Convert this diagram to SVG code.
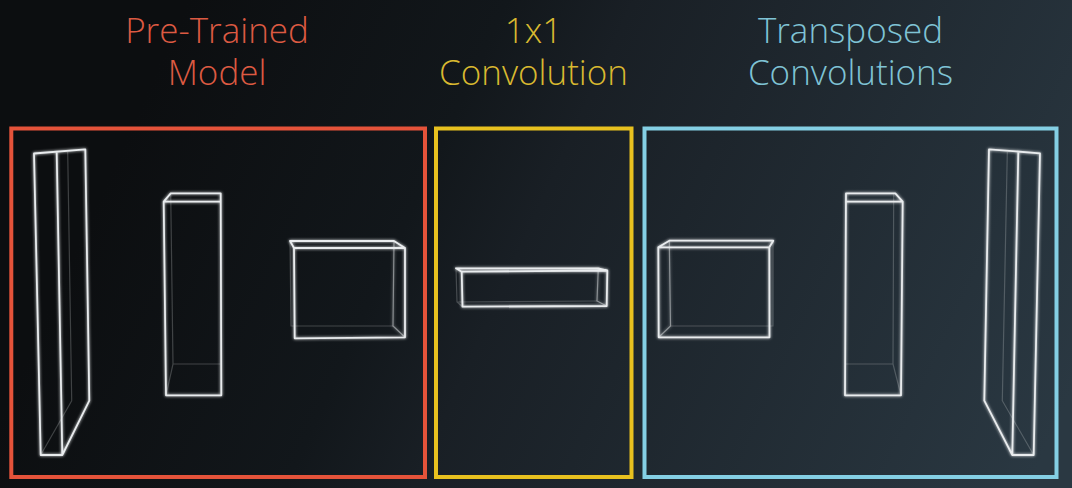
<svg xmlns="http://www.w3.org/2000/svg" width="1072" height="488" viewBox="0 0 1072 488">
<style>
.t{font-family:"Open Sans","Liberation Sans",sans-serif;font-weight:300;font-size:35px;text-anchor:middle}
.f{fill:none;stroke-width:4}
.b{fill:none;stroke:#e9ecee;stroke-width:1.8;stroke-linejoin:round;stroke-linecap:round;filter:url(#g)}
.m{fill:none;stroke:#cfd3d6;stroke-opacity:.55;stroke-width:1.2;filter:url(#g)}
.l{fill:none;stroke:#cfd3d6;stroke-opacity:.26;stroke-width:1.2}
</style>
<defs>
<linearGradient id="bg" gradientUnits="userSpaceOnUse" x1="120" y1="150" x2="1000" y2="550">
<stop offset="0" stop-color="#0c0e10"/><stop offset=".3" stop-color="#12171b"/><stop offset=".42" stop-color="#191f25"/><stop offset="1" stop-color="#2a3842"/>
</linearGradient>
<filter id="g" x="-30%" y="-30%" width="160%" height="160%">
<feGaussianBlur stdDeviation="1.5" result="b"/>
<feMerge><feMergeNode in="b"/><feMergeNode in="SourceGraphic"/></feMerge>
</filter>
</defs>
<rect width="1072" height="488" fill="url(#bg)"/>
<g id="pretrained-model">
<text class="t" x="217" y="43" fill="#dc5a42">Pre-Trained</text>
<text class="t" x="217" y="85" fill="#dc5a42">Model</text>
<rect class="f" x="11.3" y="128.5" width="413.7" height="348.5" stroke="#e5533a"/>
<g id="pm-block-1">
<path class="l" d="M67.7 152L71.7 400.7M40.7 455L71.7 400.7"/>
<path class="b" d="M34 153.5L85.3 149.3L89.3 400.7L62.3 455H40.7ZM56.7 152.7L62.3 455"/>
<path class="m" d="M71.7 400.7H89.3"/>
</g>
<g id="pm-block-2">
<path class="l" d="M170.7 193.3L173 364H220.5M173 364L166 395.3"/>
<path class="b" d="M163.7 201.7H220M163.7 201.7L170.7 193.3H220.7L221.3 395.3H166Z"/>
</g>
<g id="pm-block-3">
<path class="l" d="M290 241L291 326H393"/>
<path class="m" d="M394 241L393 326L405 337.3"/>
<path class="b" d="M294 248H405V337.3L294.7 338.3ZM290 241H394L405 248M290 241L294 248"/>
</g>
</g>
<g id="one-by-one-convolution">
<text class="t" x="533.5" y="43" fill="#d9b930">1x1</text>
<text class="t" x="533.5" y="85" fill="#d9b930">Convolution</text>
<rect class="f" x="436" y="128.5" width="195.5" height="348.5" stroke="#e8c11f"/>
<g id="conv-block">
<path class="l" d="M456 268.3L457 302L462.5 306.7M457 302L597 301"/>
<path class="m" d="M598.3 268L597 301L606.7 306"/>
<path class="b" d="M461.7 271.7L607.3 270.5L606.7 306L462.5 306.7ZM456 268.3H598.3L607.3 270.5M456 268.3L461.7 271.7"/>
</g>
</g>
<g id="transposed-convolutions">
<text class="t" x="850.5" y="43" fill="#7fc3d5">Transposed</text>
<text class="t" x="850.5" y="85" fill="#7fc3d5">Convolutions</text>
<rect class="f" x="644.5" y="128.5" width="412" height="348.5" stroke="#84cfe4"/>
<g id="tc-block-1">
<path class="l" d="M670.5 326H773V241"/>
<path class="m" d="M669.3 240.7L670.5 326L658.7 337.3"/>
<path class="b" d="M658.3 247.3H769.3L769.5 337.3H658.7ZM658.3 247.3L669.3 240.7H773.3L769.3 247.3"/>
</g>
<g id="tc-block-2">
<path class="l" d="M893.7 193.3L893 364H845.5M893 364L901 395.3"/>
<path class="b" d="M846 193.3H895.3L902.7 201.7L901 395.3H845ZM846.5 201.7H902.7"/>
</g>
<g id="tc-block-3">
<path class="l" d="M1007.3 152L1002.3 400.7L1033.7 455"/>
<path class="b" d="M989 149.3L1040 153.3L1033.7 455H1012.3L984.3 400.7ZM1018.3 152.7L1012.3 455"/>
<path class="m" d="M984.3 400.7H1002.3"/>
</g>
</g>
</svg>
